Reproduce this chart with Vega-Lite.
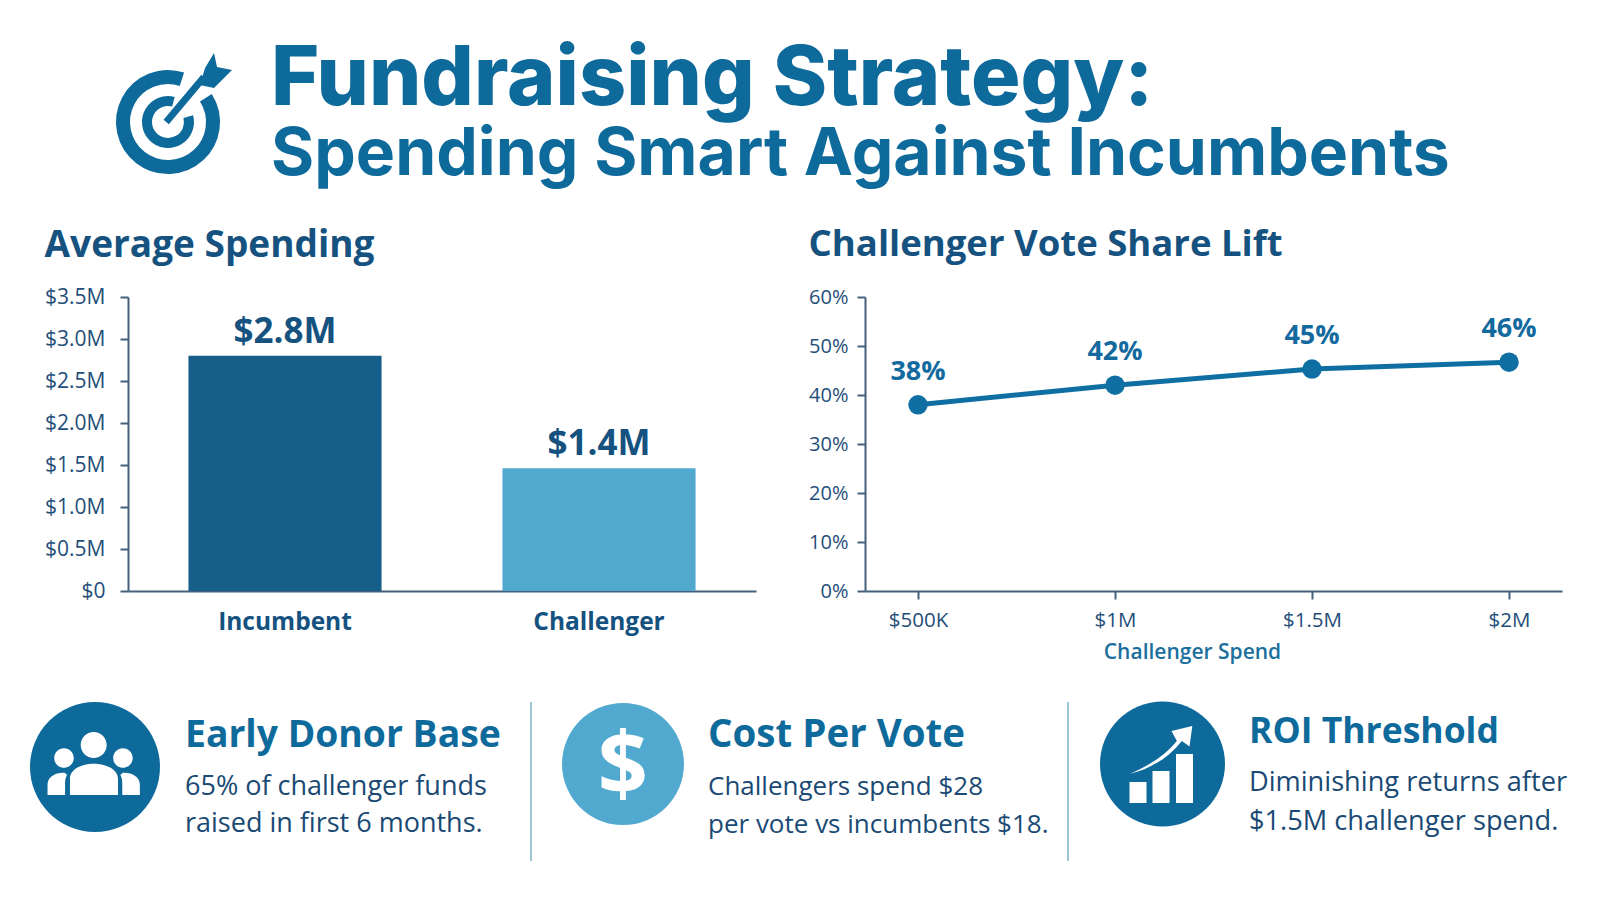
{
  "$schema": "https://vega.github.io/schema/vega-lite/v6.json",
  "description": "Fundraising strategy infographic",
  "background": "#ffffff",
  "padding": 0,
  "config": {"view": {"stroke": null}, "font": "Open Sans"},
  "datasets": {
    "headerText": [
      {"slot": "line 1", "text": "Fundraising Strategy:"},
      {"slot": "line 2", "text": "Spending Smart Against Incumbents"}
    ],
    "spending": [
      {"candidate": "Incumbent", "spend": 2.8, "label": "$2.8M"},
      {"candidate": "Challenger", "spend": 1.46, "label": "$1.4M"}
    ],
    "lift": [
      {"spend": "$500K", "share": 38, "label": "38%"},
      {"spend": "$1M", "share": 42, "label": "42%"},
      {"spend": "$1.5M", "share": 45.3, "label": "45%"},
      {"spend": "$2M", "share": 46.7, "label": "46%"}
    ],
    "cardText": [
      {"card": "donor", "kind": "heading", "slot": "heading", "text": "Early Donor Base"},
      {"card": "donor", "kind": "body", "slot": "line 1", "text": "65% of challenger funds"},
      {"card": "donor", "kind": "body", "slot": "line 2", "text": "raised in first 6 months."},
      {"card": "cost", "kind": "heading", "slot": "heading", "text": "Cost Per Vote"},
      {"card": "cost", "kind": "body", "slot": "line 1", "text": "Challengers spend $28"},
      {"card": "cost", "kind": "body", "slot": "line 2", "text": "per vote vs incumbents $18."},
      {"card": "roi", "kind": "heading", "slot": "heading", "text": "ROI Threshold"},
      {"card": "roi", "kind": "body", "slot": "line 1", "text": "Diminishing returns after"},
      {"card": "roi", "kind": "body", "slot": "line 2", "text": "$1.5M challenger spend."}
    ],
    "one": [{"glyph": "$"}],
    "none": []
  },
  "spacing": 0,
  "vconcat": [
    {
      "spacing": 0,
      "hconcat": [
        {"width": 65, "height": 1, "data": {"name": "none"}, "mark": "rule", "encoding": {}},
        {
          "spacing": 0,
          "vconcat": [
            {"width": 206, "height": 49, "data": {"name": "none"}, "mark": "rule", "encoding": {}},
            {
              "width": 206,
              "height": 100,
              "data": {"name": "one"},
              "layer": [
                {"mark": {"type": "point", "filled": false, "opacity": 1, "color": "#0f6a9c", "strokeWidth": 14, "size": 14400, "shape": "M0.232,-0.713 A0.75,0.75 0 1 0 0.631,-0.405"}, "encoding": {}},
                {"mark": {"type": "point", "filled": false, "opacity": 1, "color": "#0f6a9c", "strokeWidth": 10, "size": 14400, "shape": "M0.09,-0.338 A0.35,0.35 0 1 0 0.338,-0.09"}, "encoding": {}},
                {"mark": {"type": "point", "filled": true, "opacity": 1, "color": "#0f6a9c", "size": 14400, "shape": "M-0.074,-0.037 L0.556,-0.787 L0.644,-0.713 L0.014,0.037 Z M0.767,-1.15 L0.817,-0.917 L1.067,-0.867 L0.767,-0.567 L0.533,-0.617 L0.617,-0.9 Z"}, "encoding": {}}
              ]
            }
          ]
        },
        {
          "width": 1329,
          "height": 226,
          "data": {"name": "headerText"},
          "layer": [
            {
              "transform": [{"filter": "datum.slot == 'line 1'"}],
              "mark": {"type": "text", "align": "left", "baseline": "alphabetic", "fontSize": 82.5, "fontWeight": 800, "font": "Inter", "color": "#0f6a9c"},
              "encoding": {
                "x": {"datum": 0, "type": "quantitative", "scale": {"domain": [0, 1]}, "axis": null},
                "y": {"field": "slot", "type": "nominal", "scale": {"type": "point", "padding": 0, "domain": ["line 1", "line 2"], "range": [105, 175]}, "axis": null},
                "text": {"field": "text"}
              }
            },
            {
              "transform": [{"filter": "datum.slot == 'line 2'"}],
              "mark": {"type": "text", "align": "left", "baseline": "alphabetic", "fontSize": 66, "fontWeight": 700, "font": "Inter", "color": "#0f6a9c"},
              "encoding": {
                "x": {"datum": 0, "type": "quantitative", "scale": {"domain": [0, 1]}, "axis": null},
                "y": {"field": "slot", "type": "nominal", "scale": {"type": "point", "padding": 0, "domain": ["line 1", "line 2"], "range": [105, 175]}, "axis": null},
                "text": {"field": "text"}
              }
            }
          ]
        }
      ]
    },
    {
      "spacing": 0,
      "hconcat": [
        {"width": 44, "height": 1, "data": {"name": "none"}, "mark": "rule", "encoding": {}},
        {
          "width": 628,
          "height": 294,
          "title": {"text": "Average Spending", "anchor": "start", "frame": "bounds", "offset": 21, "fontSize": 37, "fontWeight": 700, "color": "#15527f"},
          "data": {"name": "spending"},
          "encoding": {
            "x": {
              "field": "candidate",
              "type": "nominal",
              "sort": null,
              "scale": {"paddingInner": 0.385, "paddingOuter": 0.1925},
              "axis": {"title": null, "labelAngle": 0, "ticks": false, "labelFontSize": 24.5, "labelFontWeight": 700, "labelColor": "#15527f", "labelPadding": 19, "domainColor": "#44607c", "domainWidth": 2}
            },
            "y": {
              "field": "spend",
              "type": "quantitative",
              "scale": {"domain": [0, 3.5]},
              "axis": {"title": null, "grid": false, "values": [0, 0.5, 1, 1.5, 2, 2.5, 3, 3.5], "labelExpr": "datum.value == 0 ? '$0' : '$' + format(datum.value, '.1f') + 'M'", "labelFontSize": 21, "labelColor": "#1f4e79", "labelPadding": 15, "tickSize": 8, "tickColor": "#44607c", "tickWidth": 2, "domainColor": "#44607c", "domainWidth": 2}
            }
          },
          "layer": [
            {
              "mark": {"type": "bar"},
              "encoding": {
                "color": {"field": "candidate", "type": "nominal", "scale": {"domain": ["Incumbent", "Challenger"], "range": ["#155f8a", "#52a9d0"]}, "legend": null}
              }
            },
            {
              "mark": {"type": "text", "baseline": "alphabetic", "dy": -13, "fontSize": 35, "fontWeight": 700, "color": "#15527f"},
              "encoding": {"text": {"field": "label"}}
            }
          ]
        },
        {"width": 52, "height": 1, "data": {"name": "none"}, "mark": "rule", "encoding": {}},
        {
          "width": 697,
          "height": 294,
          "title": {"text": "Challenger Vote Share Lift", "anchor": "start", "frame": "bounds", "offset": 24, "fontSize": 36.5, "fontWeight": 700, "color": "#15527f"},
          "data": {"name": "lift"},
          "encoding": {
            "x": {
              "field": "spend",
              "type": "ordinal",
              "sort": null,
              "scale": {"type": "point", "padding": 0.269},
              "axis": {"title": "Challenger Spend", "titleFontSize": 21, "titleFontWeight": 600, "titleColor": "#1b6f9e", "titlePadding": 11, "titleX": 327, "labelAngle": 0, "labelFontSize": 20.5, "labelColor": "#1f4e79", "labelPadding": 11, "tickSize": 8, "tickColor": "#44607c", "tickWidth": 2, "domainColor": "#44607c", "domainWidth": 2}
            },
            "y": {
              "field": "share",
              "type": "quantitative",
              "scale": {"domain": [0, 60]},
              "axis": {"title": null, "grid": false, "values": [0, 10, 20, 30, 40, 50, 60], "labelExpr": "datum.value + '%'", "labelFontSize": 20, "labelColor": "#1f4e79", "labelPadding": 9, "tickSize": 8, "tickColor": "#44607c", "tickWidth": 2, "domainColor": "#44607c", "domainWidth": 2}
            }
          },
          "layer": [
            {"mark": {"type": "line", "color": "#0f6fa3", "strokeWidth": 5}},
            {"mark": {"type": "point", "filled": true, "opacity": 1, "color": "#0f6fa3", "size": 380}},
            {
              "mark": {"type": "text", "baseline": "alphabetic", "dy": -25, "fontSize": 27, "fontWeight": 700, "color": "#136a9e"},
              "encoding": {"text": {"field": "label"}}
            }
          ]
        }
      ]
    },
    {"width": 1, "height": 38, "data": {"name": "none"}, "mark": "rule", "encoding": {}},
    {
      "spacing": 0,
      "hconcat": [
        {"width": 5, "height": 1, "data": {"name": "none"}, "mark": "rule", "encoding": {}},
        {
          "width": 180,
          "height": 130,
          "data": {"name": "one"},
          "layer": [
            {"mark": {"type": "point", "shape": "circle", "filled": true, "opacity": 1, "color": "#0f6a9c", "size": 16900}, "encoding": {}},
            {"mark": {"type": "point", "filled": true, "opacity": 1, "color": "#ffffff", "size": 16900, "shape": "M-0.22,-0.34 A0.2,0.2 0 1 1 0.18,-0.34 A0.2,0.2 0 1 1 -0.22,-0.34 Z M-0.627,-0.138 A0.15,0.15 0 1 1 -0.327,-0.138 A0.15,0.15 0 1 1 -0.627,-0.138 Z M0.28,-0.138 A0.15,0.15 0 1 1 0.58,-0.138 A0.15,0.15 0 1 1 0.28,-0.138 Z M-0.385,0.43 L-0.385,0.18 C-0.385,0.03 -0.2,-0.05 -0.02,-0.05 C0.16,-0.05 0.354,0.03 0.354,0.18 L0.354,0.43 Z M-0.73,0.43 L-0.73,0.27 C-0.73,0.15 -0.6,0.08 -0.47,0.09 L-0.43,0.12 C-0.46,0.18 -0.46,0.22 -0.46,0.3 L-0.46,0.43 Z M0.69,0.43 L0.69,0.27 C0.69,0.15 0.56,0.08 0.43,0.09 L0.39,0.12 C0.42,0.18 0.42,0.22 0.42,0.3 L0.42,0.43 Z"}, "encoding": {}}
          ]
        },
        {
          "width": 346,
          "height": 159,
          "layer": [
            {
              "data": {"name": "cardText"},
              "transform": [{"filter": "datum.card == 'donor' && datum.kind == 'heading'"}],
              "mark": {"type": "text", "align": "left", "baseline": "alphabetic", "dy": -11, "fontSize": 37.3, "fontWeight": 700, "color": "#0f6a9c"},
              "encoding": {
                "x": {"datum": 0, "type": "quantitative", "scale": {"domain": [0, 1]}, "axis": null},
                "y": {"field": "slot", "type": "nominal", "scale": {"type": "point", "padding": 0, "domain": ["heading", "line 1", "line 2"], "range": [56, 130]}, "axis": null},
                "text": {"field": "text"}
              }
            },
            {
              "data": {"name": "cardText"},
              "transform": [{"filter": "datum.card == 'donor' && datum.kind == 'body'"}],
              "mark": {"type": "text", "align": "left", "baseline": "alphabetic", "fontSize": 27, "color": "#1a4a74"},
              "encoding": {
                "x": {"datum": 0, "type": "quantitative", "scale": {"domain": [0, 1]}, "axis": null},
                "y": {"field": "slot", "type": "nominal", "scale": {"type": "point", "padding": 0, "domain": ["heading", "line 1", "line 2"], "range": [56, 130]}, "axis": null},
                "text": {"field": "text"}
              }
            },
            {
              "data": {"name": "one"},
              "mark": {"type": "rule", "color": "#9cc7d4", "strokeWidth": 2},
              "encoding": {"x": {"datum": 1, "type": "quantitative", "scale": {"domain": [0, 1]}, "axis": null}}
            }
          ]
        },
        {"width": 6, "height": 1, "data": {"name": "none"}, "mark": "rule", "encoding": {}},
        {
          "width": 170,
          "height": 124,
          "data": {"name": "one"},
          "layer": [
            {"mark": {"type": "point", "shape": "circle", "filled": true, "opacity": 1, "color": "#52a9d0", "size": 14884}, "encoding": {}},
            {
              "mark": {"type": "text", "baseline": "middle", "dy": 5, "fontSize": 88, "fontWeight": 700, "color": "#ffffff"},
              "encoding": {"text": {"field": "glyph"}}
            }
          ]
        },
        {
          "width": 360,
          "height": 159,
          "layer": [
            {
              "data": {"name": "cardText"},
              "transform": [{"filter": "datum.card == 'cost' && datum.kind == 'heading'"}],
              "mark": {"type": "text", "align": "left", "baseline": "alphabetic", "dy": -9, "fontSize": 38.5, "fontWeight": 700, "color": "#0f6a9c"},
              "encoding": {
                "x": {"datum": 0, "type": "quantitative", "scale": {"domain": [0, 1]}, "axis": null},
                "y": {"field": "slot", "type": "nominal", "scale": {"type": "point", "padding": 0, "domain": ["heading", "line 1", "line 2"], "range": [54, 131]}, "axis": null},
                "text": {"field": "text"}
              }
            },
            {
              "data": {"name": "cardText"},
              "transform": [{"filter": "datum.card == 'cost' && datum.kind == 'body'"}],
              "mark": {"type": "text", "align": "left", "baseline": "alphabetic", "fontSize": 26, "color": "#1a4a74"},
              "encoding": {
                "x": {"datum": 0, "type": "quantitative", "scale": {"domain": [0, 1]}, "axis": null},
                "y": {"field": "slot", "type": "nominal", "scale": {"type": "point", "padding": 0, "domain": ["heading", "line 1", "line 2"], "range": [54, 131]}, "axis": null},
                "text": {"field": "text"}
              }
            },
            {
              "data": {"name": "one"},
              "mark": {"type": "rule", "color": "#9cc7d4", "strokeWidth": 2},
              "encoding": {"x": {"datum": 1, "type": "quantitative", "scale": {"domain": [0, 1]}, "axis": null}}
            }
          ]
        },
        {"width": 6.5, "height": 1, "data": {"name": "none"}, "mark": "rule", "encoding": {}},
        {
          "width": 173,
          "height": 124,
          "data": {"name": "one"},
          "layer": [
            {"mark": {"type": "point", "shape": "circle", "filled": true, "opacity": 1, "color": "#0f6a9c", "size": 15625}, "encoding": {}},
            {"mark": {"type": "point", "filled": true, "opacity": 1, "color": "#ffffff", "size": 15625, "shape": "M-0.528,0.288 L-0.256,0.288 L-0.256,0.624 L-0.528,0.624 Z M-0.16,0.112 L0.112,0.112 L0.112,0.624 L-0.16,0.624 Z M0.216,-0.16 L0.488,-0.16 L0.488,0.624 L0.216,0.624 Z M-0.528,0.16 C-0.2,0.02 0.05,-0.15 0.23,-0.37 L0.144,-0.528 L0.477,-0.608 L0.432,-0.28 L0.31,-0.37 C0.1,-0.1 -0.2,0.08 -0.528,0.16 Z"}, "encoding": {}}
          ]
        },
        {
          "width": 340,
          "height": 159,
          "data": {"name": "cardText"},
          "transform": [{"filter": "datum.card == 'roi'"}],
          "layer": [
            {
              "transform": [{"filter": "datum.kind == 'heading'"}],
              "mark": {"type": "text", "align": "left", "baseline": "alphabetic", "dy": -9, "fontSize": 35.5, "fontWeight": 700, "color": "#0f6a9c"},
              "encoding": {
                "x": {"datum": 0, "type": "quantitative", "scale": {"domain": [0, 1]}, "axis": null},
                "y": {"field": "slot", "type": "nominal", "scale": {"type": "point", "padding": 0, "domain": ["heading", "line 1", "line 2"], "range": [50, 128]}, "axis": null},
                "text": {"field": "text"}
              }
            },
            {
              "transform": [{"filter": "datum.kind == 'body'"}],
              "mark": {"type": "text", "align": "left", "baseline": "alphabetic", "fontSize": 27.2, "color": "#1a4a74"},
              "encoding": {
                "x": {"datum": 0, "type": "quantitative", "scale": {"domain": [0, 1]}, "axis": null},
                "y": {"field": "slot", "type": "nominal", "scale": {"type": "point", "padding": 0, "domain": ["heading", "line 1", "line 2"], "range": [50, 128]}, "axis": null},
                "text": {"field": "text"}
              }
            }
          ]
        }
      ]
    }
  ]
}
